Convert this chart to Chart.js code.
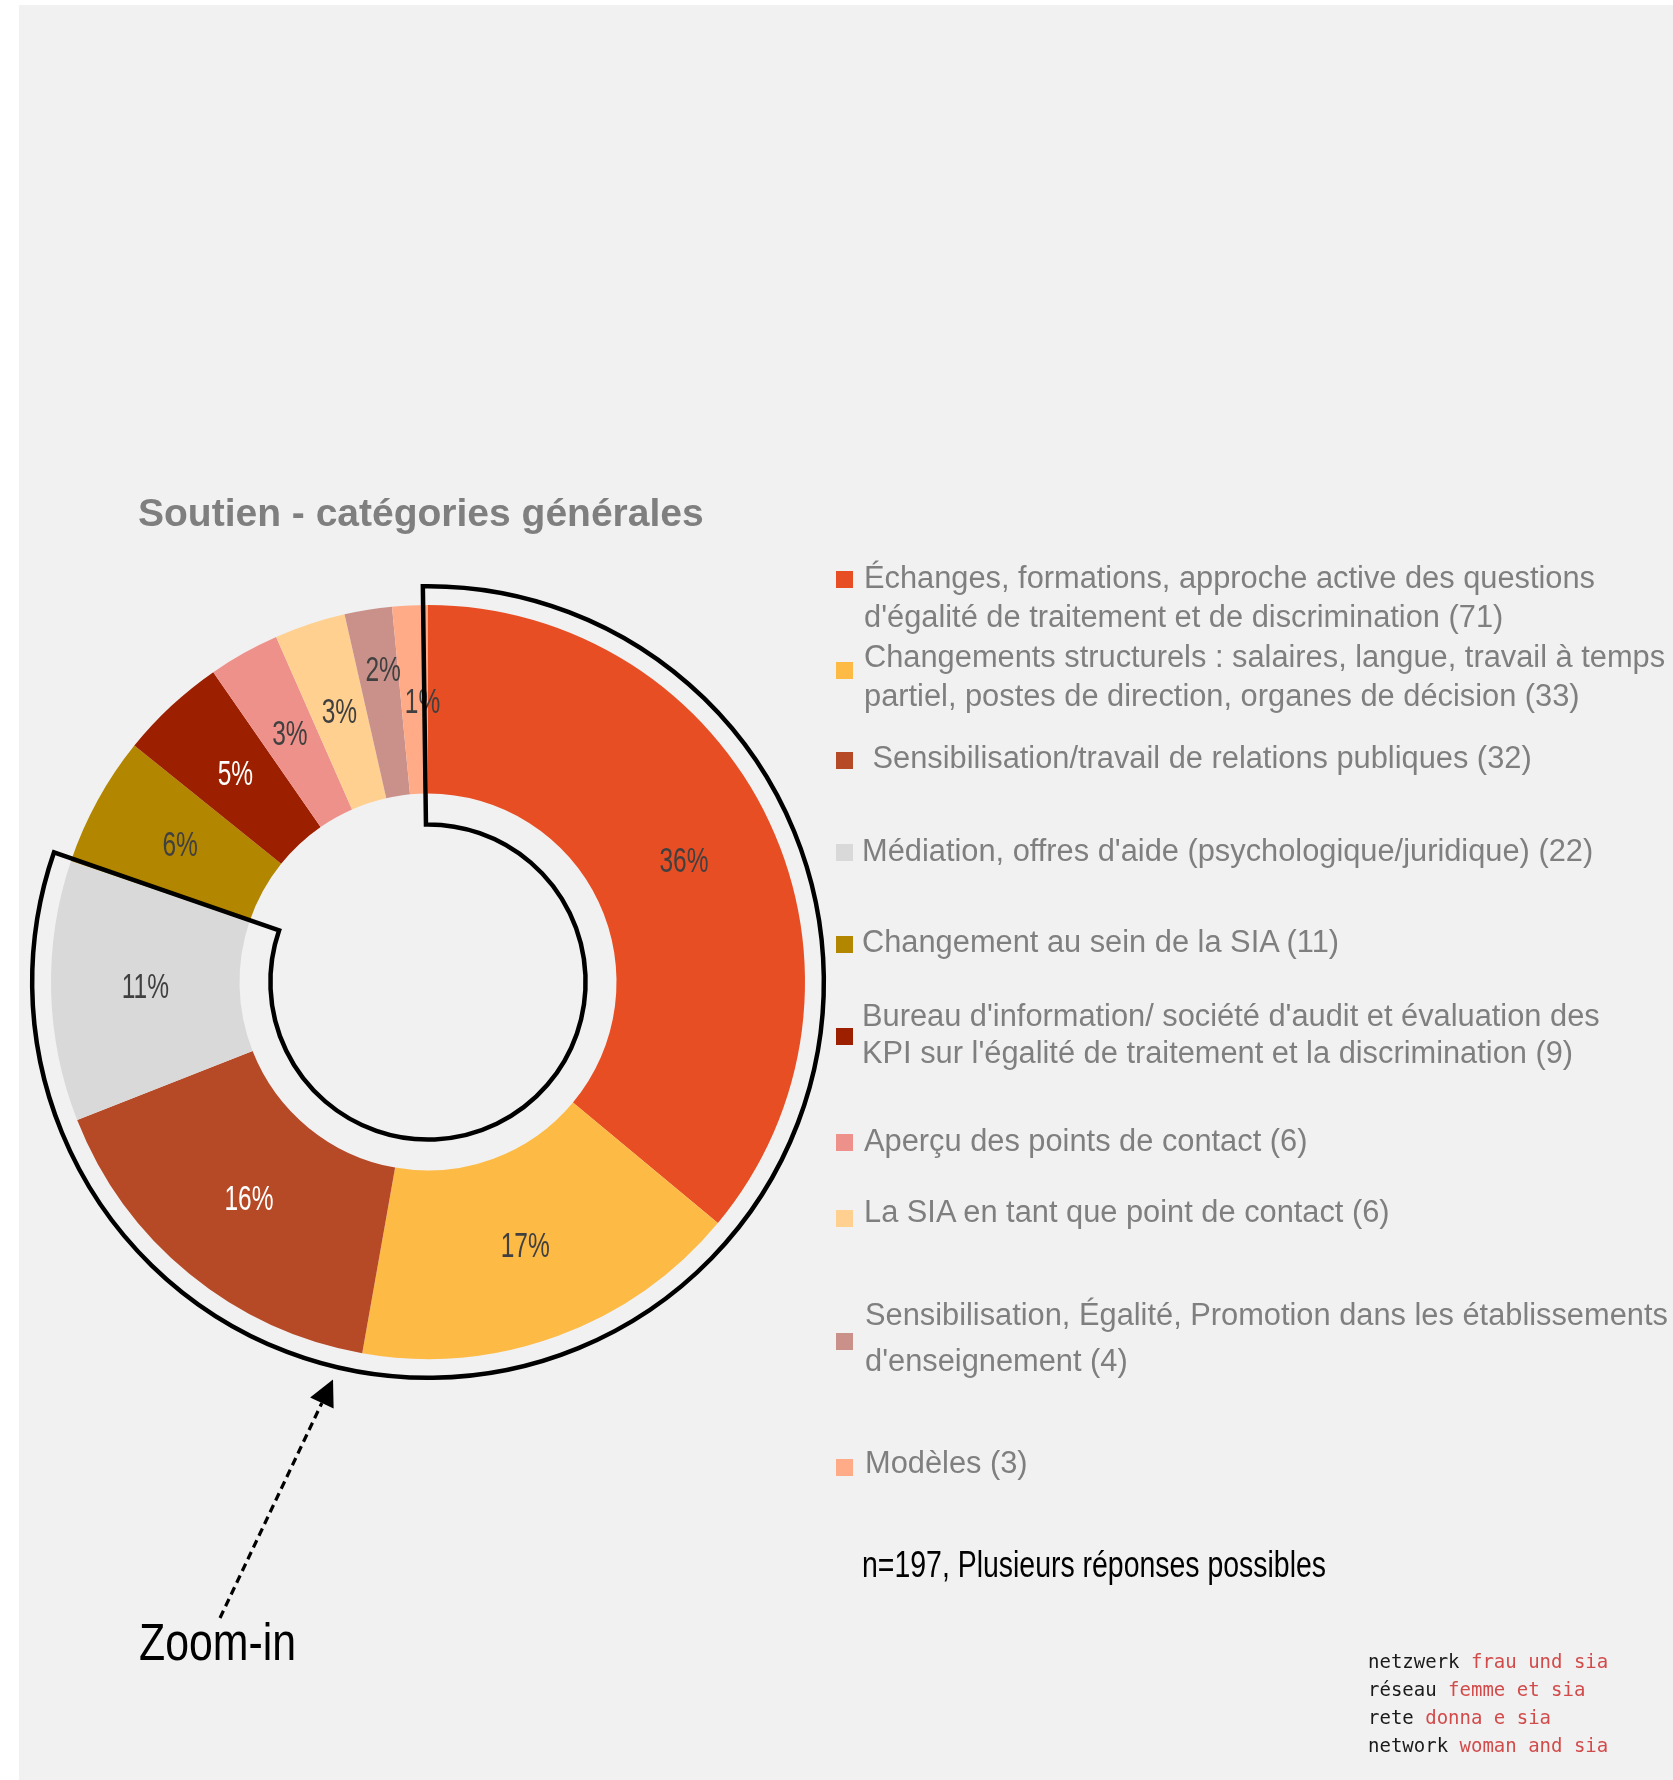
<!DOCTYPE html>
<html>
<head>
<meta charset="utf-8">
<title>Soutien - catégories générales</title>
<script src="https://cdn.jsdelivr.net/npm/chart.js@4.4.1/dist/chart.umd.min.js"></script>
<style>
  body {
    margin: 0;
    width: 1673px;
    height: 1780px;
    overflow: hidden;
    position: relative;
    background: #fff;
    font-family: "Liberation Sans", Arial, sans-serif;
  }
  #panel { position: absolute; left: 19px; top: 5px; right: 0; bottom: 0; background: #F1F1F1; }
  #chart { position: absolute; left: 0; top: 0; }
  .txt { position: absolute; white-space: pre; line-height: 1; transform-origin: 0 0; }
  .legend-text { font-size: 30.8px; color: #7F7F7F; }
  .sq { position: absolute; left: 836px; width: 17px; height: 17px; }
  .logo { font-family: "DejaVu Sans Mono", monospace; font-size: 19px; color: #1a1a1a; }
  .logo span { color: #D24B4B; }
</style>
</head>
<body>
<div id="panel"></div>
<canvas id="chart" width="1673" height="1780"></canvas>

<div class="txt" style="left:138px;top:492.5px;font-size:39px;font-weight:bold;color:#7F7F7F;">Soutien - catégories générales</div>
<div class="txt" style="left:862px;top:1546.5px;font-size:36px;color:#000;transform:scaleX(0.79);">n=197, Plusieurs réponses possibles</div>
<div class="txt" style="left:139px;top:1616.8px;font-size:51px;color:#000;transform:scaleX(0.84);">Zoom-in</div>

<div class="txt logo" style="left:1368px;top:1651.6px;">netzwerk <span>frau und sia</span></div>
<div class="txt logo" style="left:1368px;top:1679.9px;">réseau <span>femme et sia</span></div>
<div class="txt logo" style="left:1368px;top:1708.2px;">rete <span>donna e sia</span></div>
<div class="txt logo" style="left:1368px;top:1736.2px;">network <span>woman and sia</span></div>

<script>
// categories (line breaks as in the original legend)
const categories = [
    ['Échanges, formations, approche active des questions', "d'égalité de traitement et de discrimination"],
    ['Changements structurels : salaires, langue, travail à temps', 'partiel, postes de direction, organes de décision'],
    [' Sensibilisation/travail de relations publiques'],
    ["Médiation, offres d'aide (psychologique/juridique)"],
    ['Changement au sein de la SIA'],
    ["Bureau d'information/ société d'audit et évaluation des", "KPI sur l'égalité de traitement et la discrimination"],
    ['Aperçu des points de contact'],
    ['La SIA en tant que point de contact'],
    ['Sensibilisation, Égalité, Promotion dans les établissements', "d'enseignement"],
    ['Modèles']
];
const counts = [71, 33, 32, 22, 11, 9, 6, 6, 4, 3];
const percentLabels = ['36%', '17%', '16%', '11%', '6%', '5%', '3%', '3%', '2%', '1%'];

const sliceColors = ['#E84E24', '#FDBA45', '#B64926', '#D9D9D9', '#B38600',
                     '#9C1F00', '#EE918A', '#FFD08F', '#C9918A', '#FFAB88'];
const labelColors = ['#404040', '#404040', '#ffffff', '#404040', '#404040',
                     '#ffffff', '#404040', '#404040', '#404040', '#404040'];
// small manual shifts of the % labels (px)
const labelNudge = [[0, 0], [0, 0], [0, 0], [0, 0], [0, 0], [0, 0], [0, 0], [0, 0], [0, -31], [8, 4]];

// legend layout: first baseline, line height, square centre, text x
const legendRows = [
    { base: 589.5, lh: 38.5, sq: 579, x: 864 },
    { base: 668.5, lh: 38.5, sq: 670, x: 864 },
    { base: 769.5, lh: 38.5, sq: 760, x: 864 },
    { base: 862.5, lh: 38.5, sq: 852, x: 862 },
    { base: 953.5, lh: 38.5, sq: 944.5, x: 862 },
    { base: 1027, lh: 37.3, sq: 1036.5, x: 862 },
    { base: 1152.5, lh: 38.5, sq: 1142, x: 864 },
    { base: 1223.5, lh: 38.5, sq: 1218, x: 864 },
    { base: 1326, lh: 46.5, sq: 1341.5, x: 865 },
    { base: 1474.5, lh: 38.5, sq: 1467.5, x: 865 }
];

const zoomedSlices = 4; // first four slices sit inside the "Zoom-in" outline

categories.forEach((lines, i) => {
    const row = legendRows[i];
    const sq = document.createElement('div');
    sq.className = 'sq';
    sq.style.background = sliceColors[i];
    sq.style.top = (row.sq - 8.5) + 'px';
    document.body.appendChild(sq);

    lines.forEach((line, j) => {
        const el = document.createElement('div');
        el.className = 'txt legend-text';
        el.textContent = j === lines.length - 1 ? `${line} (${counts[i]})` : line;
        el.style.left = row.x + 'px';
        el.style.top = (row.base + j * row.lh - 26.1) + 'px';
        document.body.appendChild(el);
    });
});

const sliceLabels = {
    id: 'sliceLabels',
    afterDatasetsDraw(chart) {
        const ctx = chart.ctx;
        chart.getDatasetMeta(0).data.forEach((arc, i) => {
            const p = arc.tooltipPosition();
            ctx.save();
            ctx.translate(p.x + labelNudge[i][0], p.y + labelNudge[i][1]);
            ctx.scale(0.7, 1);
            ctx.font = '35px "Liberation Sans", Arial, sans-serif';
            ctx.fillStyle = labelColors[i];
            ctx.textAlign = 'center';
            ctx.textBaseline = 'middle';
            ctx.fillText(percentLabels[i], 0, 0);
            ctx.restore();
        });
    }
};

const zoomOutline = {
    id: 'zoomOutline',
    afterDraw(chart) {
        const ctx = chart.ctx;
        const arcs = chart.getDatasetMeta(0).data;
        const first = arcs[0];
        const last = arcs[zoomedSlices - 1];
        const a0 = first.startAngle - 0.013;
        const a1 = last.endAngle + 0.007;

        ctx.save();
        ctx.beginPath();
        ctx.arc(first.x, first.y, first.outerRadius * 1.05, a0, a1);
        ctx.arc(first.x, first.y, first.innerRadius * 0.836, a1, a0, true);
        ctx.closePath();
        ctx.lineWidth = 4.5;
        ctx.strokeStyle = '#000';
        ctx.stroke();

        // dashed arrow from the "Zoom-in" caption
        const tail = { x: 220, y: 1618 };
        const tip = { x: 333, y: 1379.5 };
        const len = Math.hypot(tip.x - tail.x, tip.y - tail.y);
        const ux = (tip.x - tail.x) / len, uy = (tip.y - tail.y) / len;
        const head = 26, half = 13;
        const bx = tip.x - ux * head, by = tip.y - uy * head;

        ctx.beginPath();
        ctx.setLineDash([8, 5]);
        ctx.lineWidth = 3.2;
        ctx.moveTo(tail.x, tail.y);
        ctx.lineTo(bx, by);
        ctx.stroke();
        ctx.setLineDash([]);

        ctx.beginPath();
        ctx.moveTo(tip.x, tip.y);
        ctx.lineTo(bx - uy * half, by + ux * half);
        ctx.lineTo(bx + uy * half, by - ux * half);
        ctx.closePath();
        ctx.fillStyle = '#000';
        ctx.fill();
        ctx.restore();
    }
};

const canvas = document.getElementById('chart');
new Chart(canvas.getContext('2d'), {
    type: 'doughnut',
    data: {
        labels: categories.map(l => l.join(' ')),
        datasets: [{
            data: counts,
            backgroundColor: sliceColors,
            borderWidth: 0,
            hoverOffset: 0
        }]
    },
    options: {
        responsive: false,
        animation: false,
        devicePixelRatio: 1,
        cutout: '50%',
        rotation: 0,
        layout: {
            padding: { left: 51, top: 605, right: 868, bottom: 421 }
        },
        plugins: {
            legend: { display: false },
            title: { display: false },
            tooltip: { enabled: false }
        }
    },
    plugins: [sliceLabels, zoomOutline]
});
</script>
</body>
</html>
